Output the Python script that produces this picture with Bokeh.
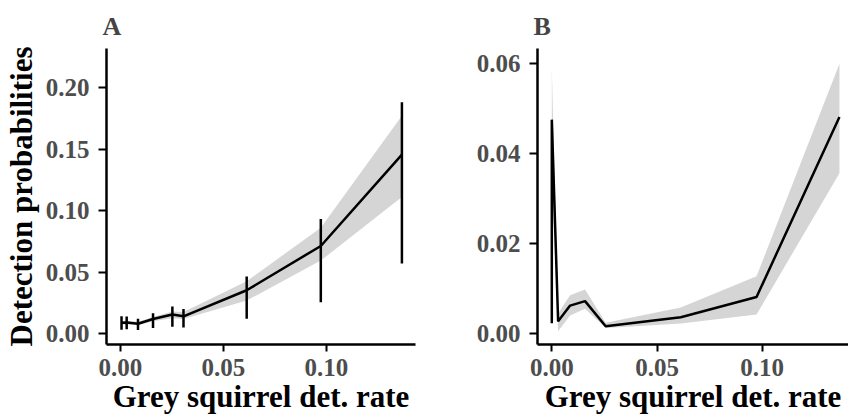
from bokeh.plotting import figure
from bokeh.layouts import row
from bokeh.models import FixedTicker, ColumnDataSource
from bokeh.embed import file_html
from bokeh.resources import INLINE

# ---- Panel A data ----
a_x = [0.0005, 0.0030, 0.0085, 0.0158, 0.0252, 0.0306, 0.0613, 0.0973, 0.1367]
a_y = [0.0088, 0.0090, 0.0080, 0.0118, 0.0155, 0.0140, 0.0352, 0.0712, 0.1455]
a_err_lo = [0.0030, 0.0035, 0.0028, 0.0045, 0.0055, 0.0050, 0.0120, 0.0254, 0.0570]
a_err_hi = [0.0140, 0.0138, 0.0120, 0.0165, 0.0220, 0.0200, 0.0463, 0.0932, 0.1880]
a_band_lo = [0.0070, 0.0075, 0.0068, 0.0100, 0.0125, 0.0118, 0.0268, 0.0593, 0.1110]
a_band_hi = [0.0100, 0.0105, 0.0095, 0.0135, 0.0180, 0.0175, 0.0425, 0.0860, 0.1770]

# ---- Panel B data ----
b_x = [0.0, 0.0, 0.0030, 0.0087, 0.0158, 0.0256, 0.0613, 0.0973, 0.1367]
b_y = [0.0023, 0.0475, 0.0027, 0.0062, 0.0072, 0.0016, 0.0036, 0.0081, 0.0481]
b_band_lo = [0.0010, 0.0350, 0.0005, 0.0040, 0.0055, 0.0012, 0.0022, 0.0042, 0.0356]
b_band_hi = [0.0040, 0.0590, 0.0045, 0.0085, 0.0098, 0.0024, 0.0058, 0.0127, 0.0599]

# ---- ticks / labels ----
x_ticks = [0.0, 0.05, 0.10]
x_tick_labels = ["0.00", "0.05", "0.10"]
a_y_ticks = [0.0, 0.05, 0.10, 0.15, 0.20]
a_y_tick_labels = ["0.00", "0.05", "0.10", "0.15", "0.20"]
b_y_ticks = [0.0, 0.02, 0.04, 0.06]
b_y_tick_labels = ["0.00", "0.02", "0.04", "0.06"]
x_title = "Grey squirrel det. rate"
y_title = "Detection probabilities"
panel_titles = ["A", "B"]

FONT = "Liberation Serif"
BAND = "#D5D5D5"


def style(p, xt, xtl, yt, ytl, ylabel):
    p.xaxis.ticker = FixedTicker(ticks=xt)
    p.xaxis.major_label_overrides = {t: l for t, l in zip(xt, xtl)}
    p.yaxis.ticker = FixedTicker(ticks=yt)
    p.yaxis.major_label_overrides = {t: l for t, l in zip(yt, ytl)}
    p.xgrid.visible = False
    p.ygrid.visible = False
    p.outline_line_color = None
    for ax in (p.xaxis[0], p.yaxis[0]):
        ax.axis_line_color = "black"
        ax.axis_line_width = 2.5
        ax.major_tick_line_color = "black"
        ax.major_tick_line_width = 2
        ax.major_tick_in = 0
        ax.minor_tick_out = 0
        ax.minor_tick_in = 0
        ax.major_label_text_font = FONT
        ax.major_label_text_font_style = "bold"
        ax.major_label_text_font_size = "25px"
        ax.major_label_text_color = "#4D4D4D"
        ax.axis_label_text_font = FONT
        ax.axis_label_text_font_style = "bold"
        ax.axis_label_text_font_size = "31px"
        ax.axis_label_text_color = "black"
    p.xaxis.major_tick_out = 7
    p.yaxis.major_tick_out = 8
    p.xaxis.major_label_standoff = 7
    p.yaxis.major_label_standoff = 9
    p.xaxis.axis_label = x_title
    p.xaxis.axis_label_standoff = 0
    if ylabel:
        p.yaxis.axis_label = ylabel
        p.yaxis.axis_label_standoff = 4
    p.title.text_font = FONT
    p.title.text_font_style = "bold"
    p.title.text_font_size = "26px"
    p.title.align = "left"
    p.title.offset = -4
    p.title.standoff = 16


pA = figure(width=424, height=417, x_range=(-0.0068, 0.1433), y_range=(-0.0089, 0.2317),
            output_backend="svg", toolbar_location=None, title=panel_titles[0],
            min_border_left=100, min_border_right=9, min_border_top=48, min_border_bottom=73)
srcA = ColumnDataSource(dict(x=a_x, y=a_y, lo=a_err_lo, hi=a_err_hi, blo=a_band_lo, bhi=a_band_hi))
pA.varea(x="x", y1="blo", y2="bhi", source=srcA, fill_color=BAND)
pA.line(x="x", y="y", source=srcA, line_color="black", line_width=2.5)
pA.segment(x0="x", y0="lo", x1="x", y1="hi", source=srcA, line_color="black", line_width=2.5)
style(pA, x_ticks, x_tick_labels, a_y_ticks, a_y_tick_labels, y_title)

pB = figure(width=424, height=417, x_range=(-0.0068, 0.1410), y_range=(-0.00244, 0.0633),
            output_backend="svg", toolbar_location=None, title=panel_titles[1],
            min_border_left=113, min_border_right=0, min_border_top=48, min_border_bottom=73)
srcB = ColumnDataSource(dict(x=b_x, y=b_y, blo=b_band_lo, bhi=b_band_hi))
pB.varea(x="x", y1="blo", y2="bhi", source=srcB, fill_color=BAND)
pB.line(x="x", y="y", source=srcB, line_color="black", line_width=2.5)
style(pB, x_ticks, x_tick_labels, b_y_ticks, b_y_tick_labels, None)

layout = row(pA, pB)
open("out.html", "w").write(file_html(layout, INLINE))
